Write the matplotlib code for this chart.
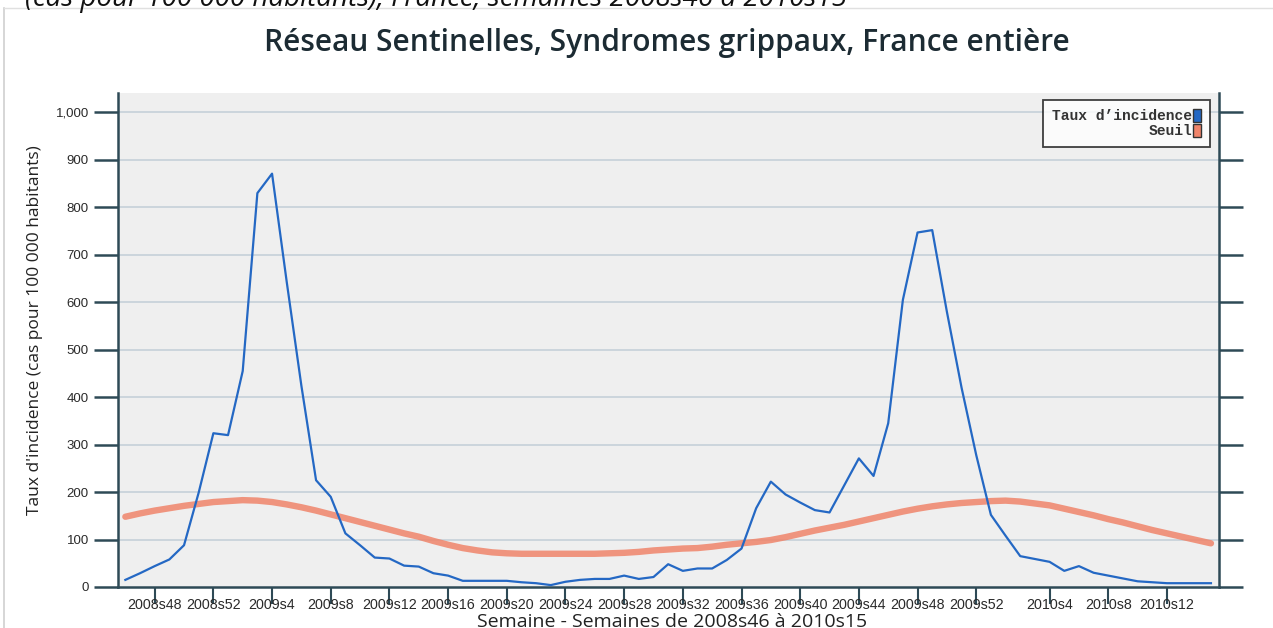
import matplotlib
matplotlib.use("Agg")
import matplotlib.pyplot as plt
from matplotlib.patches import Patch
from matplotlib.lines import Line2D

# ---- data ----
weeks = ([f"2008s{w}" for w in range(46, 53)] +
         [f"2009s{w}" for w in range(1, 54)] +
         [f"2010s{w}" for w in range(1, 16)])

incidence = [15, 29, 44, 58, 88, 199, 324, 320, 455, 830, 871, 643, 424, 225, 190,
             113, 88, 62, 60, 45, 43, 29, 24, 13, 13, 13, 13, 10, 8, 4,
             11, 15, 17, 17, 24, 17, 21, 48, 34, 39, 39, 57, 81, 166, 222,
             195, 178, 162, 157, 214, 271, 234, 345, 605, 747, 752, 580, 420, 278, 152,
             108, 65, 59, 53, 34, 44, 30, 24, 18, 12, 10, 8, 8, 8, 8]

seuil = [148, 155, 161, 166, 171, 175, 179, 181, 183, 182, 179, 174, 168, 161, 153,
         145, 137, 129, 121, 113, 106, 97, 89, 82, 77, 73, 71, 70, 70, 70,
         70, 70, 70, 71, 72, 74, 77, 79, 81, 82, 85, 89, 92, 95, 99,
         105, 112, 119, 125, 131, 138, 145, 152, 159, 165, 170, 174, 177, 179, 181,
         182, 180, 176, 172, 165, 158, 151, 143, 136, 128, 120, 113, 106, 99, 92]

tick_labels = ["2008s48", "2008s52", "2009s4", "2009s8", "2009s12", "2009s16",
               "2009s20", "2009s24", "2009s28", "2009s32", "2009s36", "2009s40",
               "2009s44", "2009s48", "2009s52", "2010s4", "2010s8", "2010s12"]
y_ticks = [0, 100, 200, 300, 400, 500, 600, 700, 800, 900, 1000]
y_tick_labels = ["0", "100", "200", "300", "400", "500", "600", "700", "800", "900", "1,000"]

title = "Réseau Sentinelles, Syndromes grippaux, France entière"
xlabel = "Semaine - Semaines de 2008s46 à 2010s15"
ylabel = "Taux d'incidence (cas pour 100 000 habitants)"
legend_labels = ["Taux d’incidence", "Seuil"]

# ---- style ----
blue = "#2468c4"
salmon = "#f0846a"
axis_col = "#2e4a56"
narrow = ["Liberation Sans", "DejaVu Sans"]

fig = plt.figure(figsize=(12.73, 6.28), dpi=100)
fig.patch.set_facecolor("white")
ax = fig.add_axes([0.0927, 0.0653, 0.9576 - 0.0927, 0.8527 - 0.0653])
ax.set_facecolor("#efefef")

x = list(range(len(weeks)))
ax.plot(x, seuil, color=salmon, lw=4.6, alpha=0.85, solid_capstyle="round", zorder=3)
ax.plot(x, incidence, color=blue, lw=1.6, zorder=4)

ax.set_xlim(-0.5, 74.55)
ax.set_ylim(0, 1042)

ax.set_yticks(y_ticks)
ax.set_yticklabels(y_tick_labels, fontsize=9.5, family=narrow, color="#2a2a2a")
tick_pos = [weeks.index(t) for t in tick_labels]
ax.set_xticks(tick_pos)
ax.set_xticklabels(tick_labels, fontsize=10.3, family=narrow, color="#2a2a2a")

for y in y_ticks[1:]:
    ax.axhline(y, color="#c9d3da", lw=1.3, zorder=1)

ax.tick_params(axis="y", direction="out", length=17, width=1.8, color=axis_col,
               pad=4, right=True, labelright=False)
ax.tick_params(axis="x", direction="out", length=12, width=1.5, color=axis_col, pad=-4)

for s in ["left", "right", "bottom"]:
    ax.spines[s].set_color(axis_col)
    ax.spines[s].set_linewidth(1.8)
ax.spines["top"].set_visible(False)

ax.set_xlabel(xlabel, fontsize=14, family=["Open Sans", "DejaVu Sans"], color="#222222")
ax.set_ylabel(ylabel, fontsize=12.5, family=["Open Sans", "DejaVu Sans"], color="#222222")
ax.xaxis.set_label_coords(0.503, -0.053)
ax.yaxis.set_label_coords(-0.068, 0.52)

fig.text(0.524, 0.932, title, ha="center", va="center", fontsize=21.5,
         family=["Open Sans", "DejaVu Sans"], weight="semibold", color="#1c2b33")

# clipped top text (cut off in the reference)
fig.text(0.02, 1.002, "(cas pour 100 000 habitants), France, semaines 2008s46 à 2010s15",
         ha="left", va="center", fontsize=20, style="italic", color="#111111",
         family=["Open Sans", "DejaVu Sans"])

# figure frame lines
fig.add_artist(Line2D([0.003, 0.003], [0.0, 0.987], color="#d0d0d0", lw=1.2))
fig.add_artist(Line2D([0.003, 1.0], [0.987, 0.987], color="#e0e0e0", lw=1.0))

handles = [Patch(facecolor=blue, edgecolor="#333333"), Patch(facecolor=salmon, edgecolor="#333333")]
leg = ax.legend(handles, legend_labels, loc="upper right", bbox_to_anchor=(0.992, 0.985),
                markerfirst=False, frameon=True, fancybox=False,
                prop={"family": ["Liberation Mono", "DejaVu Sans Mono"], "size": 10.5,
                      "weight": "bold"},
                handlelength=0.55, handleheight=1.0, handletextpad=0.1,
                borderpad=0.6, labelspacing=0.05, borderaxespad=0)
leg.get_frame().set_edgecolor("#111111")
leg.get_frame().set_linewidth(1.3)
leg.get_frame().set_facecolor("white")
for t in leg.get_texts():
    t.set_color("#333333")
leg._legend_box.align = "right"

fig.savefig("out.png", dpi=100, facecolor=fig.get_facecolor())
